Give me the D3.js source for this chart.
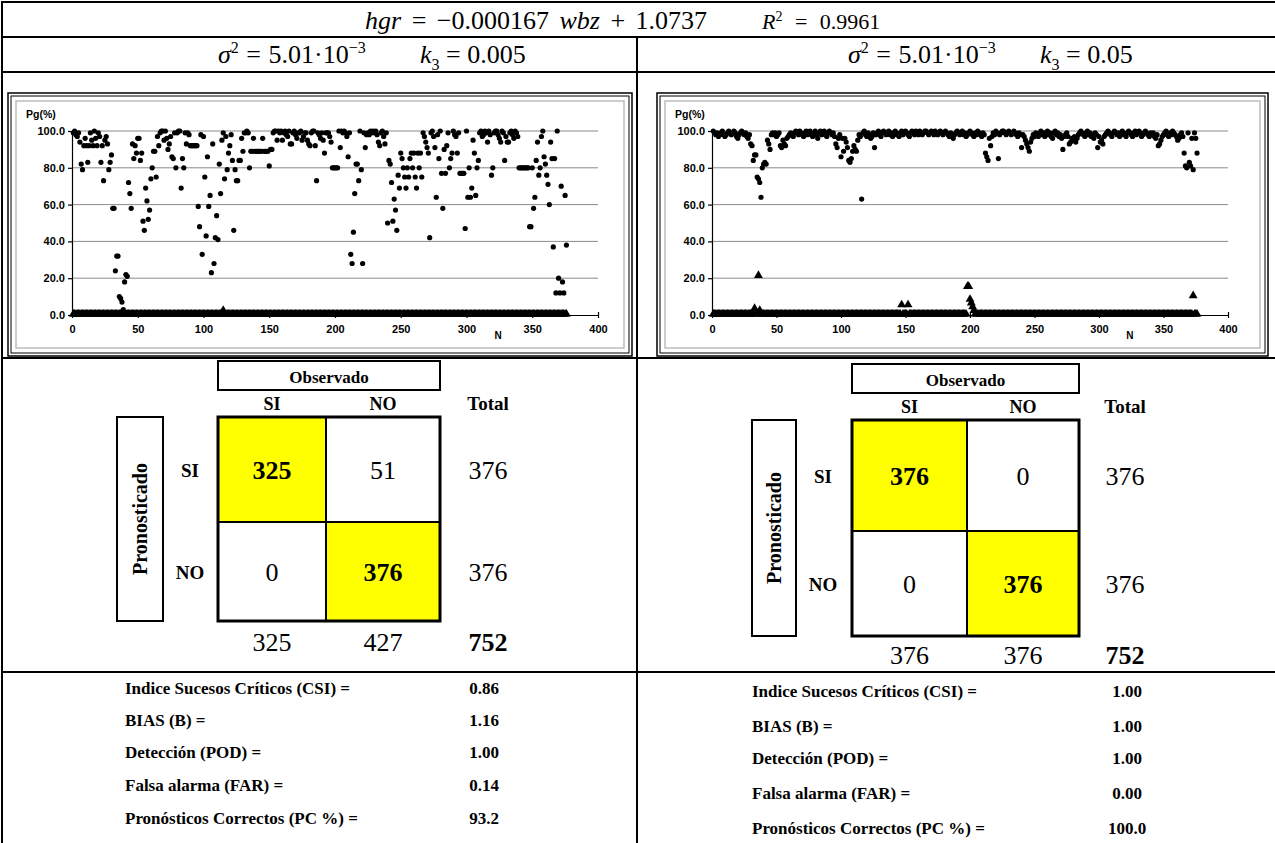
<!DOCTYPE html>
<html>
<head>
<meta charset="utf-8">
<script src="https://cdn.jsdelivr.net/npm/d3@7"></script>
<style>
  body { margin: 0; background: #fff; }
  svg { display: block; }
</style>
</head>
<body>
<svg id="chart" width="1275" height="843"></svg>
<script>
"use strict";

// ---- data ----
let xTicks = [0, 50, 100, 150, 200, 250, 300, 350, 400];
let yTicks = [0, 20, 40, 60, 80, 100];

// k3 = 0.005 : Pg(%) of the "SI" cases, N = 1..376
let leftPgSi = [
  99,100,98,97,99,94,82,79,92,96, 92,83,92,99,95,92,100,96,92,99,
  97,83,92,73,95,97,93,79,83,87, 58,58,24,32,32,10,9,7,3,18,
  22,21,72,66,58,93,85,92,88,96, 96,84,88,51,46,69,62,52,57,74,
  80,89,89,75,97,92,99,100,100,95, 100,96,90,93,97,86,85,99,80,99,
  100,100,69,85,80,99,93,99,98,92, 92,92,92,92,92,59,48,98,33,97,
  75,43,86,59,65,23,93,28,42,54, 41,82,66,95,99,74,97,79,88,92,
  98,84,46,79,73,73,84,84,96,89, 99,99,100,99,80,89,89,96,89,89,
  89,89,89,89,96,89,89,89,89,81, 90,90,99,100,100,95,100,99,100,95,
  99,100,98,97,100,93,93,99,100,98, 96,99,99,100,95,97,99,99,95,93,
  92,99,100,100,92,73,99,98,96,99, 95,88,99,99,99,97,94,80,80,80,
  80,80,100,91,100,99,100,99,97,86, 99,33,28,45,66,82,82,73,100,79,
  28,99,91,98,99,98,100,99,100,99, 100,98,94,92,99,100,97,93,99,50,
  84,82,72,51,63,57,46,76,69,88, 85,80,75,69,80,75,85,88,80,88,
  75,69,88,80,88,75,99,97,94,91, 88,42,99,100,97,91,64,98,85,100,
  77,58,90,77,92,99,80,85,88,100, 98,97,88,99,77,77,77,77,47,100,
  64,80,64,69,95,88,65,80,84,99, 100,97,98,100,99,94,100,98,76,80,
  99,100,100,98,96,94,100,99,84,97, 94,94,99,100,98,96,100,99,97,80,
  80,80,80,80,80,80,80,48,48,80, 58,64,84,94,76,80,97,100,86,82,
  76,71,60,94,85,37,85,12,100,20, 12,70,18,12,65,38
];

// k3 = 0.005 : Pg(%) of the "NO" cases
let leftPgNo = [
  0,0,0,0,0,0,0,0,0,0,0,0,0,0,0,0,0,0,0,0,
  0,0,0,0,0,0,0,0,0,0,0,0,0,0,0,0,0,0,0,0,
  0,0,0,0,0,0,0,0,0,0,0,0,0,0,0,0,0,0,0,0,
  0,0,0,0,0,0,0,0,0,0,0,0,0,0,0,0,0,0,0,0,
  0,0,0,0,0,0,0,0,0,0,0,0,0,0,0,0,0,0,0,0,
  0,0,0,0,0,0,0,0,0,0,0,0,0,0,2,0,0,0,0,0,
  0,0,0,0,0,0,0,0,0,0,0,0,0,0,0,0,0,0,0,0,
  0,0,0,0,0,0,0,0,0,0,0,0,0,0,0,0,0,0,0,0,
  0,0,0,0,0,0,0,0,0,0,0,0,0,0,0,0,0,0,0,0,
  0,0,0,0,0,0,0,0,0,0,0,0,0,0,0,0,0,0,0,0,
  0,0,0,0,0,0,0,0,0,0,0,0,0,0,0,0,0,0,0,0,
  0,0,0,0,0,0,0,0,0,0,0,0,0,0,0,0,0,0,0,0,
  0,0,0,0,0,0,0,0,0,0,0,0,0,0,0,0,0,0,0,0,
  0,0,0,0,0,0,0,0,0,0,0,0,0,0,0,0,0,0,0,0,
  0,0,0,0,0,0,0,0,0,0,0,0,0,0,0,0,0,0,0,0,
  0,0,0,0,0,0,0,0,0,0,0,0,0,0,0,0,0,0,0,0,
  0,0,0,0,0,0,0,0,0,0,0,0,0,0,0,0,0,0,0,0,
  0,0,0,0,0,0,0,0,0,0,0,0,0,0,0,0,0,0,0,0,
  0,0,0,0,0,0,0,0,0,0,0,0,0,0,0,0
];

// k3 = 0.05 : Pg(%) of the "SI" cases
let rightPgSi = [
  100,99,98,99,97,98,99,100,98,97, 98,99,100,99,98,99,100,99,97,96,
  98,99,100,99,98,99,97,96,98,93, 92,84,87,87,75,74,72,64,80,82,
  83,82,95,93,90,98,99,98,99,97, 98,99,92,91,95,93,92,96,97,98,
  99,98,97,99,100,99,98,100,99,98, 97,99,100,98,99,100,98,97,99,100,
  98,96,99,100,98,99,100,98,97,99, 100,99,98,99,97,93,91,96,98,86,
  96,89,96,94,91,84,83,85,89,92, 90,89,95,98,97,63,99,100,98,97,
  99,98,96,97,99,91,98,99,100,98, 97,99,100,99,98,99,100,98,99,97,
  98,100,99,98,97,99,100,98,99,100, 99,98,97,99,100,99,98,100,99,98,
  100,99,98,99,100,100,99,98,99,100, 99,98,100,99,98,99,100,99,98,99,
  100,99,98,97,99,98,96,98,99,100, 99,98,99,100,98,99,97,98,99,100,
  99,98,97,99,98,100,99,98,97,99, 98,88,86,84,96,92,97,99,98,100,
  99,85,98,99,100,100,99,98,99,100, 99,98,99,100,99,98,97,99,98,91,
  98,97,95,93,91,89,94,96,98,97, 99,98,97,99,100,98,99,97,99,100,
  98,99,97,96,99,100,98,99,97,98, 96,90,97,98,99,97,93,94,96,95,
  97,94,96,98,99,100,99,98,97,99, 100,98,99,97,98,96,99,98,91,97,
  94,95,93,97,98,99,100,99,98,97, 99,100,99,98,99,97,98,100,99,98,
  97,99,100,99,98,97,99,100,98,99, 100,99,97,98,99,100,99,98,97,99,
  98,99,97,96,98,92,93,95,97,98, 99,100,98,97,99,98,100,99,98,97,
  95,96,98,99,97,88,81,80,99,83, 81,96,79,99,96,88
];

// k3 = 0.05 : Pg(%) of the "NO" cases
let rightPgNo = [
  0,0,0,0,0,0,0,0,0,0,0,0,0,0,0,0,0,0,0,0,
  0,0,0,0,0,0,0,0,0,0,0,0,3,0,0,21,2,0,0,0,
  0,0,0,0,0,0,0,0,0,0,0,0,0,0,0,0,0,0,0,0,
  0,0,0,0,0,0,0,0,0,0,0,0,0,0,0,0,0,0,0,0,
  0,0,0,0,0,0,0,0,0,0,0,0,0,0,0,0,0,0,0,0,
  0,0,0,0,0,0,0,0,0,0,0,0,0,0,0,0,0,0,0,0,
  0,0,0,0,0,0,0,0,0,0,0,0,0,0,0,0,0,0,0,0,
  0,0,0,0,0,0,5,0,0,0,0,5,0,0,0,0,0,0,0,0,
  0,0,0,0,0,0,0,0,0,0,0,0,0,0,0,0,0,0,0,0,
  0,0,0,0,0,0,0,0,0,0,0,0,0,0,0,0,0,15,15,8,
  6,4,2,0,0,0,0,0,0,0,0,0,0,0,0,0,0,0,0,0,
  0,0,0,0,0,0,0,0,0,0,0,0,0,0,0,0,0,0,0,0,
  0,0,0,0,0,0,0,0,0,0,0,0,0,0,0,0,0,0,0,0,
  0,0,0,0,0,0,0,0,0,0,0,0,0,0,0,0,0,0,0,0,
  0,0,0,0,0,0,0,0,0,0,0,0,0,0,0,0,0,0,0,0,
  0,0,0,0,0,0,0,0,0,0,0,0,0,0,0,0,0,0,0,0,
  0,0,0,0,0,0,0,0,0,0,0,0,0,0,0,0,0,0,0,0,
  0,0,0,0,0,0,0,0,0,0,0,0,0,0,0,0,0,0,0,0,
  0,0,0,0,0,0,0,0,0,0,0,0,10,0,0,0
];

// contingency tables: rows = Pronosticado (SI, NO), cols = Observado (SI, NO)
let leftMatrix = [[325, 51], [0, 376]];
let leftRowTotals = [376, 376];
let leftColTotals = [325, 427];
let leftGrand = 752;

let rightMatrix = [[376, 0], [0, 376]];
let rightRowTotals = [376, 376];
let rightColTotals = [376, 376];
let rightGrand = 752;

let statLabels = ["Indice Sucesos Críticos (CSI) =", "BIAS (B) =", "Detección (POD) =",
                  "Falsa alarma (FAR) =", "Pronósticos Correctos (PC %) ="];
let leftStats = ["0.86", "1.16", "1.00", "0.14", "93.2"];
let rightStats = ["1.00", "1.00", "1.00", "0.00", "100.0"];

// ---- layout ----
const serif = "'Liberation Serif', 'Times New Roman', serif";
const sans = "'Liberation Sans', Arial, sans-serif";
const svg = d3.select("#chart");

// table grid
let table = svg.append("g").attr("stroke", "#000").attr("stroke-width", 2);
table.append("line").attr("x1", 2).attr("x2", 1275).attr("y1", 2).attr("y2", 2);
[37, 72, 358, 672].forEach(y => {
    table.append("line").attr("x1", 2).attr("x2", 1275).attr("y1", y).attr("y2", y);
});
table.append("line").attr("x1", 2).attr("x2", 2).attr("y1", 1).attr("y2", 843);
table.append("line").attr("x1", 637).attr("x2", 637).attr("y1", 37).attr("y2", 843);

// equation row
let eq = svg.append("text").attr("x", 365).attr("y", 29)
    .style("font-family", serif).style("font-size", "26px").style("word-spacing", "4px");
eq.append("tspan").style("font-style", "italic").text("hgr");
eq.append("tspan").text(" = \u22120.000167 ");
eq.append("tspan").style("font-style", "italic").text("wbz");
eq.append("tspan").text(" + 1.0737");

let r2 = svg.append("text").attr("x", 762).attr("y", 29)
    .style("font-family", serif).style("font-size", "22px").style("word-spacing", "7px");
r2.append("tspan").style("font-style", "italic").text("R");
r2.append("tspan").attr("dy", -8).style("font-size", "14px").text("2");
r2.append("tspan").attr("dy", 8).text(" = 0.9961");

function sigmaText(x, y) {
    let t = svg.append("text").attr("x", x).attr("y", y)
        .style("font-family", serif).style("font-size", "26px").style("word-spacing", "1px");
    t.append("tspan").style("font-style", "italic").text("\u03c3");
    t.append("tspan").attr("dy", -10).style("font-size", "16px").text("2");
    t.append("tspan").attr("dy", 10).text(" = 5.01\u00b710");
    t.append("tspan").attr("dy", -10).style("font-size", "16px").text("\u22123");
}
function kText(x, y, value) {
    let t = svg.append("text").attr("x", x).attr("y", y)
        .style("font-family", serif).style("font-size", "26px");
    t.append("tspan").style("font-style", "italic").text("k");
    t.append("tspan").attr("dy", 7).style("font-size", "16px").text("3");
    t.append("tspan").attr("dy", -7).text(" = " + value);
}
sigmaText(218, 63);
kText(420, 63, "0.005");
sigmaText(848, 63);
kText(1040, 63, "0.05");

// ---- scatter panels ----
function drawScatter(frame, si, no) {
    let g = svg.append("g");

    // double black frame + light inner frame
    g.append("rect").attr("x", frame.left).attr("y", frame.top)
        .attr("width", frame.right - frame.left).attr("height", frame.bottom - frame.top)
        .attr("fill", "#fff").attr("stroke", "#000").attr("stroke-width", 1.5);
    g.append("rect").attr("x", frame.left + 3).attr("y", frame.top + 3)
        .attr("width", frame.right - frame.left - 6).attr("height", frame.bottom - frame.top - 6)
        .attr("fill", "none").attr("stroke", "#000").attr("stroke-width", 1);
    g.append("rect").attr("x", frame.left + 8).attr("y", frame.top + 8)
        .attr("width", frame.right - frame.left - 16).attr("height", frame.bottom - frame.top - 16)
        .attr("fill", "none").attr("stroke", "#bdbdbd").attr("stroke-width", 1.5);

    let x = d3.scaleLinear().domain([0, 400]).range([frame.x0, frame.x1]);
    let y = d3.scaleLinear().domain([0, 100]).range([frame.y0, frame.y1]);

    // gridlines
    g.append("g").selectAll("line")
        .data(yTicks.filter(d => d > 0))
        .enter().append("line")
        .attr("x1", x(0)).attr("x2", x(400))
        .attr("y1", d => y(d)).attr("y2", d => y(d))
        .attr("stroke", "#8a8a8a").attr("stroke-width", 1);

    // y axis
    let yAxis = g.append("g")
        .attr("transform", "translate(" + x(0) + ",0)")
        .call(d3.axisLeft(y).tickValues(yTicks).tickFormat(d3.format(".1f"))
            .tickSize(4).tickSizeOuter(0).tickPadding(3));

    // x axis (cross ticks)
    let xAxis = g.append("g")
        .attr("transform", "translate(0," + y(0) + ")")
        .call(d3.axisBottom(x).tickValues(xTicks).tickFormat(d3.format("d"))
            .tickSize(3).tickSizeOuter(0).tickPadding(7));
    xAxis.selectAll(".tick line").attr("y1", -3).attr("y2", 3);

    [yAxis, xAxis].forEach(a => {
        a.selectAll("path, line").attr("stroke", "#000").attr("stroke-width", 1.2);
        a.selectAll("text").attr("fill", "#000")
            .style("font-family", sans).style("font-size", "11px").style("font-weight", "bold");
    });

    g.append("text").attr("x", frame.left + 18).attr("y", frame.top + 25)
        .style("font-family", sans).style("font-size", "10.5px").style("font-weight", "bold")
        .text("Pg(%)");
    g.append("text").attr("x", x(324)).attr("y", y(0) + 24)
        .attr("text-anchor", "middle")
        .style("font-family", sans).style("font-size", "10px").style("font-weight", "bold")
        .text("N");

    // NO cases: triangles
    g.append("g").selectAll("path")
        .data(no)
        .enter().append("path")
        .attr("transform", (d, i) => "translate(" + x(i + 1) + "," + (y(d) - 1) + ")")
        .attr("d", d3.symbol().type(d3.symbolTriangle).size(34))
        .attr("fill", "#000");

    // SI cases: dots
    g.append("g").selectAll("circle")
        .data(si)
        .enter().append("circle")
        .attr("cx", (d, i) => x(i + 1))
        .attr("cy", d => y(d))
        .attr("r", 2.6)
        .attr("fill", "#000");
}

drawScatter({left: 8, right: 632, top: 93, bottom: 356, x0: 72, x1: 598, y0: 315, y1: 131},
    leftPgSi, leftPgNo);
drawScatter({left: 657, right: 1268, top: 93, bottom: 356, x0: 712, x1: 1228, y0: 315, y1: 131},
    rightPgSi, rightPgNo);

// ---- contingency tables ----
function drawMatrix(p, matrix, rowTotals, colTotals, grand) {
    let g = svg.append("g");
    let colX = [(p.x0 + p.xm) / 2, (p.xm + p.x1) / 2];
    let rowY = [(p.y0 + p.ym) / 2, (p.ym + p.y1) / 2];
    let totX = p.totX;

    // Observado header box
    g.append("rect").attr("x", p.x0).attr("y", p.obsTop)
        .attr("width", p.x1 - p.x0).attr("height", p.obsBottom - p.obsTop)
        .attr("fill", "none").attr("stroke", "#000").attr("stroke-width", 2);
    g.append("text").attr("x", (p.x0 + p.x1) / 2).attr("y", p.obsBottom - 7)
        .attr("text-anchor", "middle")
        .style("font-family", serif).style("font-size", "17px").style("font-weight", "bold")
        .text("Observado");

    ["SI", "NO"].forEach((t, i) => {
        g.append("text").attr("x", colX[i]).attr("y", p.headY)
            .attr("text-anchor", "middle")
            .style("font-family", serif).style("font-size", "18px").style("font-weight", "bold")
            .text(t);
        g.append("text").attr("x", p.rowLabX).attr("y", rowY[i] + 7)
            .attr("text-anchor", "middle")
            .style("font-family", serif).style("font-size", "19px").style("font-weight", "bold")
            .text(t);
    });
    g.append("text").attr("x", totX).attr("y", p.headY)
        .attr("text-anchor", "middle")
        .style("font-family", serif).style("font-size", "19px").style("font-weight", "bold")
        .text("Total");

    // cells
    let cells = [];
    matrix.forEach((row, r) => row.forEach((v, c) => cells.push({r: r, c: c, v: v})));
    let xs = [[p.x0, p.xm], [p.xm, p.x1]];
    let ys = [[p.y0, p.ym], [p.ym, p.y1]];
    g.selectAll("rect.cell").data(cells).enter().append("rect")
        .attr("class", "cell")
        .attr("x", d => xs[d.c][0]).attr("y", d => ys[d.r][0])
        .attr("width", d => xs[d.c][1] - xs[d.c][0])
        .attr("height", d => ys[d.r][1] - ys[d.r][0])
        .attr("fill", d => d.r === d.c ? "#ffff00" : "#fff")
        .attr("stroke", "#000").attr("stroke-width", 2);
    g.append("rect").attr("x", p.x0).attr("y", p.y0)
        .attr("width", p.x1 - p.x0).attr("height", p.y1 - p.y0)
        .attr("fill", "none").attr("stroke", "#000").attr("stroke-width", 3);
    g.selectAll("text.cell").data(cells).enter().append("text")
        .attr("class", "cell")
        .attr("x", d => colX[d.c]).attr("y", d => rowY[d.r] + 9)
        .attr("text-anchor", "middle")
        .style("font-family", serif).style("font-size", "26px")
        .style("font-weight", d => d.r === d.c ? "bold" : "normal")
        .text(d => d.v);

    rowTotals.forEach((v, i) => {
        g.append("text").attr("x", totX).attr("y", rowY[i] + 9)
            .attr("text-anchor", "middle")
            .style("font-family", serif).style("font-size", "26px").text(v);
    });
    colTotals.forEach((v, i) => {
        g.append("text").attr("x", colX[i]).attr("y", p.totY)
            .attr("text-anchor", "middle")
            .style("font-family", serif).style("font-size", "26px").text(v);
    });
    g.append("text").attr("x", totX).attr("y", p.totY)
        .attr("text-anchor", "middle")
        .style("font-family", serif).style("font-size", "26px").style("font-weight", "bold")
        .text(grand);

    // Pronosticado box
    g.append("rect").attr("x", p.proX0).attr("y", p.y0)
        .attr("width", p.proX1 - p.proX0).attr("height", p.y1 - p.y0)
        .attr("fill", "none").attr("stroke", "#000").attr("stroke-width", 2);
    g.append("text")
        .attr("transform", "translate(" + ((p.proX0 + p.proX1) / 2 + 7) + "," + ((p.y0 + p.y1) / 2) + ") rotate(-90)")
        .attr("text-anchor", "middle")
        .style("font-family", serif).style("font-size", "20px").style("font-weight", "bold")
        .text("Pronosticado");
}

drawMatrix({x0: 218, xm: 326, x1: 440, y0: 417, ym: 522, y1: 621,
            obsTop: 361, obsBottom: 390, headY: 410, rowLabX: 190, totX: 488, totY: 651,
            proX0: 117, proX1: 163},
    leftMatrix, leftRowTotals, leftColTotals, leftGrand);
drawMatrix({x0: 852, xm: 967, x1: 1079, y0: 420, ym: 531, y1: 636,
            obsTop: 364, obsBottom: 393, headY: 413, rowLabX: 823, totX: 1125, totY: 664,
            proX0: 752, proX1: 796},
    rightMatrix, rightRowTotals, rightColTotals, rightGrand);

// ---- verification scores ----
function drawStats(labelX, valueX, rowsY, values) {
    let g = svg.append("g")
        .style("font-family", serif).style("font-size", "17px").style("font-weight", "bold");
    g.selectAll("text.label").data(statLabels).enter().append("text")
        .attr("class", "label")
        .attr("x", labelX).attr("y", (d, i) => rowsY[i])
        .text(d => d);
    g.selectAll("text.value").data(values).enter().append("text")
        .attr("class", "value")
        .attr("x", valueX).attr("y", (d, i) => rowsY[i])
        .attr("text-anchor", "middle")
        .text(d => d);
}
drawStats(125, 484, [694, 726, 758, 791, 824], leftStats);
drawStats(752, 1127, [697, 732, 764, 799, 834], rightStats);
</script>
</body>
</html>
